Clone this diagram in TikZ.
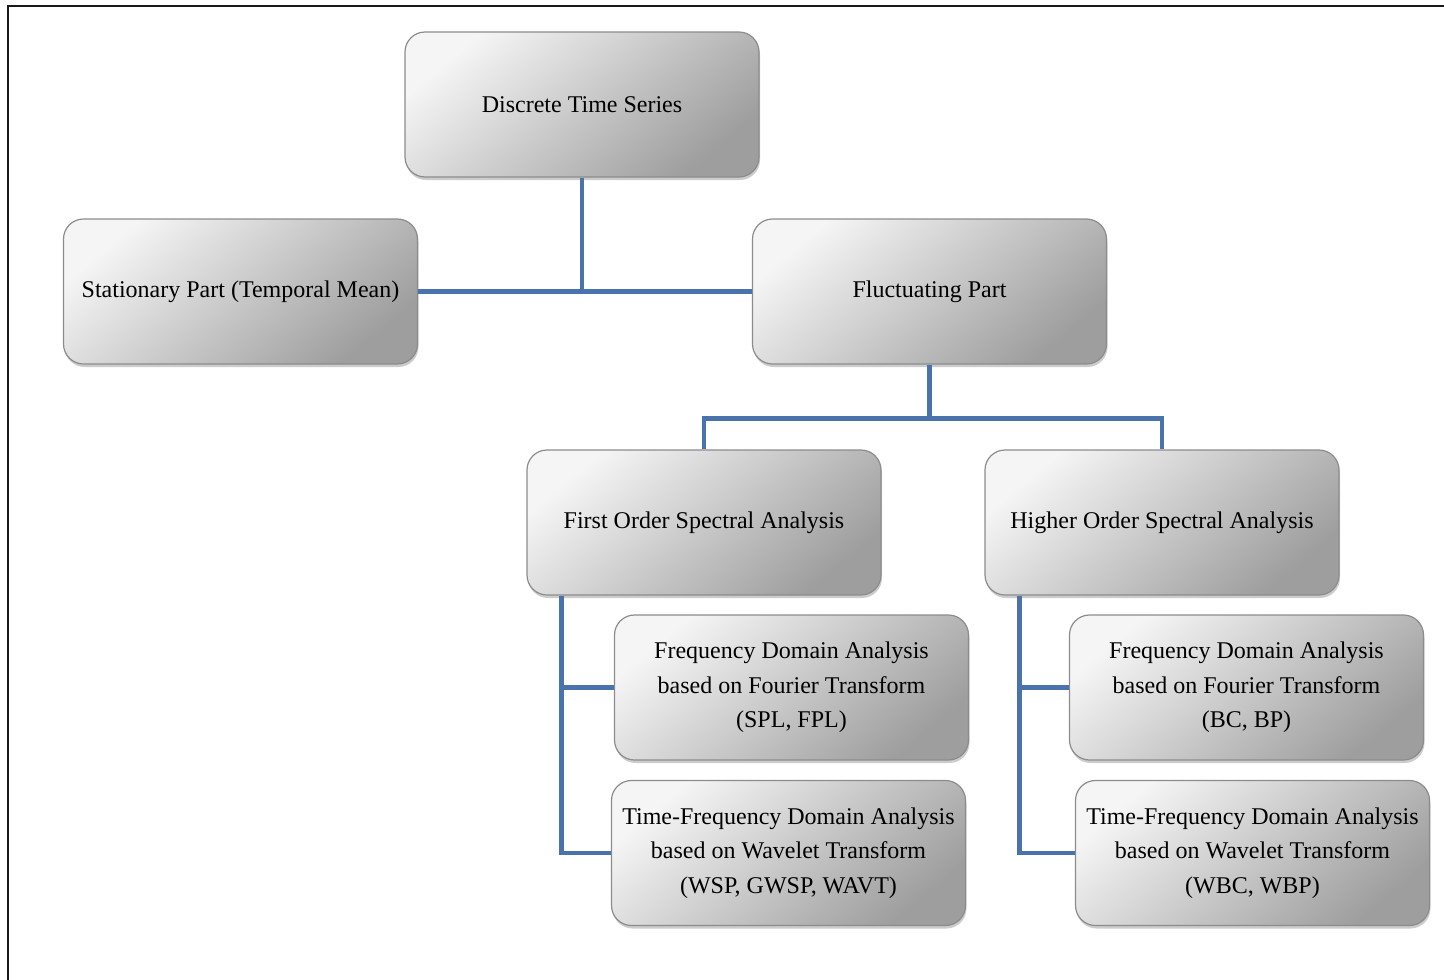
\documentclass[tikz,border=0pt]{standalone}
\usepackage{fontspec}
\setmainfont{Liberation Serif}
\usetikzlibrary{shadows,calc}
\definecolor{connblue}{HTML}{4A72AC}
\definecolor{boxedge}{HTML}{8C8C8C}
\tikzset{
  box/.style={draw=boxedge, line width=1.2pt, rounded corners=20pt,
    minimum width=354pt, minimum height=145pt, inner sep=2pt,
    align=center, font=\fontsize{24}{34.5}\selectfont,
    top color=white!96!black, bottom color=black!38, shading angle=40,
    drop shadow={opacity=0.4, shadow xshift=1pt, shadow yshift=-3pt}},
  conn/.style={draw=connblue, line width=4.5pt},
  frameline/.style={draw=black!90, line width=2pt}
}
\begin{document}
\begin{tikzpicture}[x=1pt,y=-1pt]
\useasboundingbox (0,0) rectangle (1444,980);
\draw[frameline] (8,980) -- (8,6) -- (1444,6);
\node[box] (dts) at (582,104.5) {Discrete Time Series};
\node[box] (stat) at (240.5,291.5) {Stationary Part (Temporal Mean)};
\node[box] (flu) at (929.5,291.5) {Fluctuating Part};
\node[box] (fo) at (704,522.5) {First Order Spectral Analysis};
\node[box] (ho) at (1162,522.5) {Higher Order Spectral Analysis};
\node[box] (fda1) at (791.5,687.5) {Frequency Domain Analysis\\based on Fourier Transform\\(SPL, FPL)};
\node[box] (tfa1) at (788.5,853) {Time-Frequency Domain Analysis\\based on Wavelet Transform\\(WSP, GWSP, WAVT)};
\node[box] (fda2) at (1246.5,687.5) {Frequency Domain Analysis\\based on Fourier Transform\\(BC, BP)};
\node[box] (tfa2) at (1252.5,853) {Time-Frequency Domain Analysis\\based on Wavelet Transform\\(WBC, WBP)};
\draw[conn] (stat.east) -- (flu.west);
\draw[conn] (dts.south) -- (dts.south |- stat.east);
\draw[conn] (flu.south) -- ++(0,54) coordinate (fj) -| (fo.north);
\draw[conn] (fj) -| (ho.north);
\draw[conn] ([xshift=35pt]fo.south west) |- (fda1.west);
\draw[conn] ([xshift=35pt]fo.south west) |- (tfa1.west);
\draw[conn] ([xshift=35pt]ho.south west) |- (fda2.west);
\draw[conn] ([xshift=35pt]ho.south west) |- (tfa2.west);
\end{tikzpicture}
\end{document}
